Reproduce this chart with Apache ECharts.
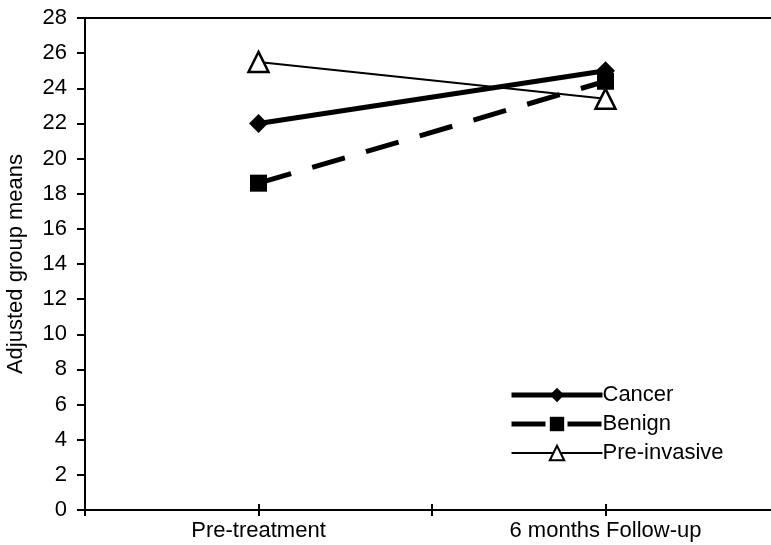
<!DOCTYPE html>
<html>
<head>
<meta charset="utf-8">
<script src="https://cdn.jsdelivr.net/npm/echarts@6/dist/echarts.min.js"></script>
<style>
  html, body { margin: 0; padding: 0; background: #fff; }
  #main { width: 771px; height: 545px; }
</style>
</head>
<body>
<div id="main"></div>
<script>
// x positions: 1 = Pre-treatment, 3 = 6 months Follow-up (axis runs 0..4, cropped on the right)
var timePoints = [1, 3];
var timeLabels = {1: 'Pre-treatment', 3: '6 months Follow-up'};
var seriesNames = ['Cancer', 'Benign', 'Pre-invasive'];
var cancerMeans = [22, 25];
var benignMeans = [18.6, 24.4];
var preInvasiveMeans = [25.5, 23.4];

var fontName = '"Liberation Sans", Arial, sans-serif';
var myChart = echarts.init(document.getElementById('main'));

function pairs(vals) {
    return timePoints.map(function (x, i) { return [x, vals[i]]; });
}

var option = {
    animation: false,
    backgroundColor: '#fff',
    textStyle: { fontFamily: fontName, color: '#000' },
    grid: {
        // plot area goes past the right edge of the picture, like the cropped original
        left: 85, top: 18, width: 694, bottom: 35,
        outerBoundsMode: 'none', containLabel: false,
        show: true, borderColor: '#000', borderWidth: 2
    },
    legend: {
        orient: 'vertical',
        left: 504, top: 378,
        itemWidth: 91, itemHeight: 18, itemGap: 5,
        textStyle: { fontSize: 22, lineHeight: 24, color: '#000', padding: [0, 0, 0, -5] },
        data: [
            { name: seriesNames[0], lineStyle: { width: 5 } },
            { name: seriesNames[1], lineStyle: { width: 5 } },
            { name: seriesNames[2], lineStyle: { width: 2 } }
        ]
    },
    xAxis: [{
        type: 'value', min: 0, max: 4, interval: 1,
        axisLine: { lineStyle: { color: '#000', width: 2 } },
        axisTick: { length: 6, lineStyle: { color: '#000', width: 2 } },
        splitLine: { show: false },
        axisLabel: {
            fontSize: 22, color: '#000', margin: 10,
            formatter: function (v) { return timeLabels[v] || ''; }
        }
    }, {
        // inward half of the crossing ticks
        type: 'value', min: 0, max: 4, interval: 1, position: 'bottom',
        axisLine: { show: false },
        axisTick: { inside: true, length: 6, lineStyle: { color: '#000', width: 2 } },
        axisLabel: { show: false },
        splitLine: { show: false }
    }],
    yAxis: {
        type: 'value', min: 0, max: 28, interval: 2,
        name: 'Adjusted group means', nameLocation: 'middle', nameGap: 58,
        nameTextStyle: { fontSize: 22, color: '#000' },
        axisLine: { lineStyle: { color: '#000', width: 2 } },
        axisTick: { length: 8, lineStyle: { color: '#000', width: 2 } },
        splitLine: { show: false },
        axisLabel: { fontSize: 22, color: '#000', margin: 18 }
    },
    series: [{
        name: 'Cancer', type: 'line', data: pairs(cancerMeans),
        symbol: 'diamond', symbolSize: 19,
        lineStyle: { color: '#000', width: 5 },
        itemStyle: { color: '#000' }
    }, {
        name: 'Benign', type: 'line', data: pairs(benignMeans),
        symbol: 'rect', symbolSize: 17,
        lineStyle: { color: '#000', width: 5, type: [34, 22] },
        itemStyle: { color: '#000' }
    }, {
        name: 'Pre-invasive', type: 'line', data: pairs(preInvasiveMeans),
        symbol: 'triangle', symbolSize: 20,
        lineStyle: { color: '#000', width: 2 },
        itemStyle: { color: '#fff', borderColor: '#000', borderWidth: 2.5 }
    }]
};
myChart.setOption(option);
</script>
</body>
</html>
